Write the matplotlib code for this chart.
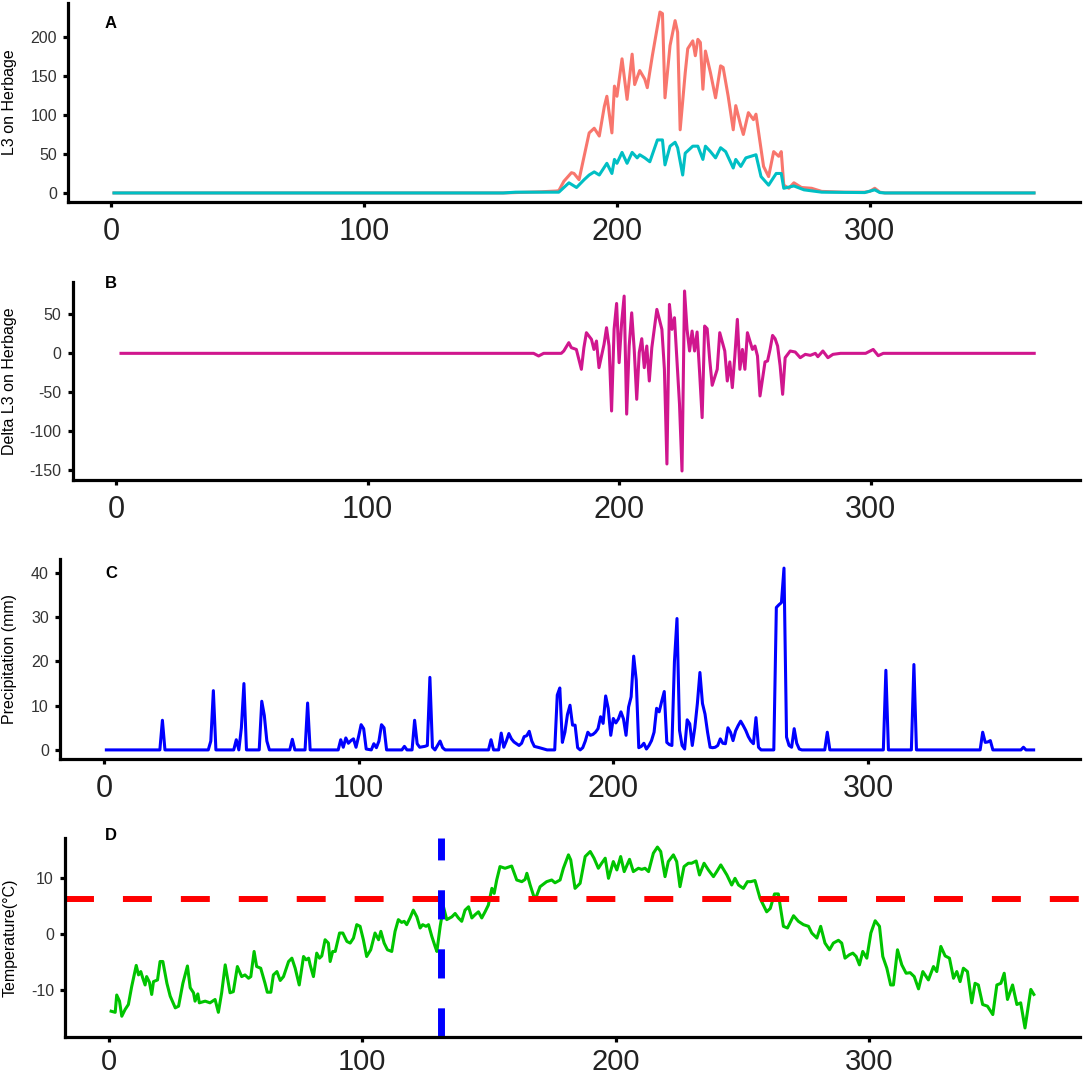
import matplotlib
matplotlib.use('Agg')
import matplotlib.pyplot as plt

plt.rcParams['font.family'] = ['Liberation Sans', 'DejaVu Sans']
plt.rcParams['axes.unicode_minus'] = False

# ---------------- Panel A: L3 on herbage (two series) ----------------
a_red_day = [1, 155, 160, 170, 176, 177, 179, 182, 183, 185, 187, 189, 191, 193, 195, 196, 198,
             199, 200, 202, 204, 206, 207, 209, 211, 212, 214, 217, 218, 219, 221, 223, 224,
             225, 227, 228, 230, 231, 232, 233, 234, 235, 237, 239, 241, 242, 244, 246, 247,
             249, 250, 252, 254, 255, 258, 260, 262, 264, 265, 266, 268, 270, 273, 277, 281,
             290, 298, 300, 302, 304, 306, 365]
a_red_val = [0, 0, 0.5, 1.5, 2.5, 3, 15, 26, 25, 17, 47, 77, 83, 73, 111, 124, 77,
             137, 124, 172, 120, 178, 139, 157, 146, 135, 176, 232, 230, 122, 189, 221, 206,
             81, 154, 185, 195, 176, 197, 193, 133, 182, 154, 122, 163, 161, 124, 81, 112,
             86, 75, 103, 94, 101, 34, 21, 53, 47, 53, 10, 6, 13, 7, 6, 2,
             1, 1, 2, 6, 1, 0, 0]

a_teal_day = [1, 155, 160, 170, 177, 181, 184, 187, 189, 191, 193, 196, 198, 199, 200, 202, 204,
              206, 208, 209, 211, 213, 216, 218, 219, 221, 223, 224, 226, 227, 230, 232, 234,
              235, 237, 239, 241, 243, 246, 247, 249, 251, 253, 255, 257, 260, 263, 265, 266,
              270, 274, 281, 298, 302, 304, 306, 365]
a_teal_val = [0, 0, 1, 1, 1, 13, 7, 17, 23, 27, 23, 38, 25, 43, 38, 52, 38,
              52, 45, 49, 45, 40, 68, 68, 36, 60, 65, 58, 23, 51, 60, 60, 43,
              60, 53, 45, 58, 53, 32, 43, 34, 45, 47, 49, 21, 10, 25, 25, 6,
              9, 4, 1, 0.5, 4, 0.5, 0, 0]

# ---------------- Panel B: Delta L3 on herbage ----------------
b_day = [2, 166, 168, 170, 177, 178, 180, 181, 183, 185, 186, 187, 189, 190, 191, 192, 194,
         195, 196, 197, 198, 199, 200, 201, 202, 203, 204, 205, 206, 207, 208, 209, 210,
         211, 212, 213, 215, 217, 218, 219, 220, 221, 222, 224, 225, 226, 227, 228, 229,
         230, 231, 232, 233, 234, 235, 236, 237, 239, 240, 242, 243, 244, 245, 246, 247,
         248, 249, 250, 251, 253, 254, 255, 256, 258, 259, 260, 261, 262, 263, 264, 265,
         266, 268, 270, 272, 274, 276, 278, 279, 281, 283, 285, 288, 298, 301, 303, 305, 365]
b_val = [0, 0, -3.4, 0, 0, 3, 13.7, 7.3, 5, -20.5, 7.3, 26.5, 18, 5, 15.8, -18.4, 11.5,
         32.9, 9.4, -74, 30.8, 64, -12, 39.3, 73.5, -78, 9.4, 52, 5, -59, 1, 18.8, -18.4,
         9.4, -35.5, 7.3, 56.4, 30.8, -20.5, -142, 62.8, 30.8, 45.7, -65, -151, 80, 30.8, 3, 28.6,
         3, 27.4, -24.8, -82.5, 35, 31.6, -7.7, -41, -20.5, 26.5, 3, -35.5, -11, -44, -3.4, 43.6,
         -20.5, 5, -20.5, 26.5, 5, 9.4, -3.4, -54.7, -11, -9.8, 5, 23, 18.8, 9.4, -16, -52.6,
         -5.6, 3, 1.7, -5.6, -1.3, -2.6, 0, -4.3, 3, -5.6, -1.3, 0, 0, 5, -3, 0, 0]

# ---------------- Panel C: Precipitation (mm) ----------------
c_day = [1, 22, 23, 24, 41, 42, 43, 44, 51, 52, 53, 54, 55, 56, 61, 62, 63, 64, 65,
         73, 74, 75, 79, 80, 81, 92, 93, 94, 95, 96, 97, 98, 99, 100, 101, 102, 103, 105,
         106, 107, 108, 109, 110, 111, 117, 118, 119, 121, 122, 123, 124, 126, 127, 128, 129,
         130, 132, 133, 134, 151, 152, 153, 155, 156, 157, 158, 159, 160, 161, 163, 164, 165,
         166, 167, 168, 169, 171, 174, 177, 178, 179, 180, 181, 182, 183, 184, 185, 186, 187,
         188, 189, 190, 191, 192, 193, 194, 195, 196, 197, 198, 199, 200, 201, 202, 203, 204,
         205, 206, 207, 208, 209, 210, 211, 212, 213, 214, 215, 216, 217, 218, 219, 220, 221,
         222, 223, 224, 225, 226, 227, 228, 229, 230, 231, 232, 233, 234, 235, 236, 237, 238,
         239, 240, 241, 242, 243, 244, 245, 246, 247, 248, 249, 250, 251, 252, 253, 254, 255,
         256, 257, 258, 263, 264, 265, 266, 267, 268, 269, 270, 271, 272, 273, 274, 283, 284,
         285, 306, 307, 308, 317, 318, 319, 344, 345, 346, 347, 348, 349, 360, 361, 362, 365]
c_val = [0, 0, 6.7, 0, 0, 2, 13.4, 0, 0, 2.3, 0, 5, 15, 0, 0, 11, 7.8, 2, 0,
         0, 2.4, 0, 0, 10.6, 0, 0, 2.3, 0.6, 2.7, 1.5, 2.1, 2.5, 0.6, 3, 5.7, 4.8, 0.2, 0,
         1.4, 0.5, 2, 5.7, 5, 0, 0, 0.8, 0, 0, 6.7, 1.4, 0.6, 0.8, 1, 16.4, 0.6,
         0, 2, 0.5, 0, 0, 2.3, 0, 0, 3.8, 0.6, 2, 3.7, 2.5, 1.8, 1, 1.5, 3,
         3.2, 4.2, 2, 0.8, 0.5, 0, 0, 12.4, 14, 1.7, 4, 8, 10.1, 5.6, 5.6, 0.5, 0,
         0.5, 2, 4, 3.3, 3.5, 4, 4.8, 7.5, 6, 12.2, 9.4, 3.3, 7.1, 6.1, 7, 8.6, 7,
         3.3, 9.7, 12, 21.2, 15.8, 0.5, 0.8, 1.5, 0.2, 1, 2.1, 4, 9.4, 8.6, 11, 13.2, 1.7,
         1.2, 1, 20, 29.7, 4.4, 1, 0.2, 6.8, 5.9, 1, 5, 10.5, 17.5, 10.5, 8.1, 4, 0.6,
         0.5, 0.6, 1, 2.5, 1.5, 1.4, 5, 4, 2.1, 4.3, 5.5, 6.5, 5.5, 4.4, 3, 2, 1.4,
         7.3, 0.6, 0, 0, 32.2, 32.8, 33.3, 41.1, 2.9, 1, 0.6, 4.8, 1.5, 0.2, 0, 0, 4,
         0, 0, 18, 0, 0, 19.3, 0, 0, 4, 1.7, 1.8, 2.1, 0, 0, 0.6, 0, 0]

# ---------------- Panel D: Temperature (°C) ----------------
d_day = [1, 2.6, 3.2, 4.3, 5.2, 6.5, 7.8, 9.1, 10.9, 11.8, 12.7, 13.5, 14.4, 15, 16.1, 17, 17.7,
         19.3, 20.3, 21.4, 23, 24.3, 26.3, 27.6, 29.3, 31.1, 32.2, 33.5, 34.1, 35.2, 35.8, 38.1,
         40, 42, 43.3, 44.6, 46, 47.9, 49.2, 50.8, 52.5, 53.8, 55.2, 56.1, 57.4, 58.4, 60, 61.7,
         62.6, 64, 65, 66.4, 67.7, 69, 71, 72.3, 73.6, 75.2, 76.9, 77.9, 78.9, 79.5, 80.8, 82.1,
         83.2, 84.1, 85.4, 86.7, 87.4, 88.4, 89.4, 91.1, 92.4, 94, 95.3, 96.6, 97.9, 99.2, 100.5,
         101.8, 103.4, 105.1, 106.5, 107.4, 108.7, 110, 111.7, 113, 114.3, 115.6, 116.6, 117.6,
         118.9, 120.2, 121.6, 122.9, 123.9, 125.2, 126.2, 127.5, 128.8, 129.5, 130.8, 132.1,
         133.4, 135.4, 136.7, 138, 139.3, 140.6, 142, 143.3, 144.6, 145.9, 147.2, 148.5, 149.8,
         151.2, 152.1, 153.1, 154.4, 156.4, 159, 161, 163, 164.3, 165, 166.3, 168.2, 170.2,
         172.8, 174.8, 176.1, 178.1, 179.4, 181.4, 182.3, 184, 186, 188, 190, 191.5, 193.2,
         194.5, 195.9, 197.2, 199.1, 200.5, 202, 203.4, 205.5, 207, 209, 210.3, 211.6, 213,
         214.9, 216.5, 217.8, 219.5, 220.8, 222.8, 224.1, 225.4, 227, 228.7, 230, 231.8, 233.1,
         234.9, 236.6, 238.6, 239.9, 241.5, 243.9, 245.8, 247.1, 248.5, 250.4, 252, 253.3, 255,
         257, 259.6, 261, 262.7, 264.2, 264.9, 266.2, 267.8, 270.2, 272.1, 274.1, 276.1, 277.4,
         279.4, 280.9, 282.6, 284.4, 285.9, 287.9, 289.2, 290.5, 292.2, 293.6, 294.9, 296.2,
         297.5, 299.1, 300.7, 302.4, 304.1, 305.4, 307, 308.5, 309.6, 311.2, 312.9, 314.6, 316.2,
         317.8, 319.5, 321.2, 323.4, 325.4, 326.7, 328.3, 330, 331.7, 333.3, 334.6, 335.9, 337.2,
         338.8, 340.5, 341.8, 343.1, 344.8, 346.7, 348.8, 350.4, 352, 353.3, 354.6, 356.6, 358.3,
         359.8, 361.5, 363.8, 365]
d_val = [-13.8, -14, -10.9, -12, -14.7, -13.5, -12.6, -9.4, -5.6, -7.3, -6.7, -7.9, -9.1, -7.6,
         -8.6, -10.8, -8.5, -8.2, -4.9, -4.9, -8.8, -11.1, -13.2, -12.9, -8.8, -5.7, -9.6, -10.5,
         -12, -10.7, -12.3, -12, -12.3, -11.7, -14, -10.5, -5.5, -10.5, -10.3, -5.8, -7.6, -7.3,
         -7.9, -7.6, -3.1, -5.8, -6.1, -8.8, -10.4, -10.4, -7.3, -6.7, -8.3, -7.6, -4.9, -4.3,
         -6.1, -9.1, -4, -4.6, -4.3, -5.5, -7.6, -3.4, -4.3, -3.9, -1, -1.6, -4.9, -3.1, -3.1,
         0.2, 0.2, -1.3, -1.6, -0.7, 1.7, 1.4, -1, -4, -2.8, 0.2, -1, 0.5, -1.6, -2.8, -3.1, 0.5,
         2.6, 2.1, 2.3, 1.7, 2.9, 4.3, 3.1, 1.1, 1.7, 1.4, 1.7, -0.4, -2.2, -3.1, 1.4, 4.9, 2.6,
         3.1, 3.7, 2.9, 2.3, 4.3, 4.9, 2.9, 3.5, 4, 2.9, 4, 5.2, 8.2, 7.3, 9.7, 12.1, 11.8, 12.2,
         9.7, 9.4, 9.8, 10.9, 8.8, 6.1, 8.5, 9.4, 9.7, 9.2, 9.7, 11.8, 14.2, 13.3, 8.2, 9.1, 13.9,
         14.8, 13.6, 11.8, 12.7, 13.6, 10, 13, 11.5, 13.9, 11.2, 13.4, 11.2, 11.8, 11.6, 11.8,
         11.2, 14.5, 15.6, 14.8, 10.3, 13, 14.2, 13, 8.5, 12.1, 12.7, 12.7, 13.1, 10.6, 12.7, 11.5,
         10.3, 11.2, 12.4, 10.6, 8.8, 10, 8.8, 8.2, 9.4, 9.4, 9.6, 6.4, 4, 4.6, 7.2, 7.2, 5.2, 1.4,
         1.1, 3.3, 2.3, 1.7, 1.4, 0.2, -0.7, 1.4, -1.6, -2.8, -1.6, -1.1, -1.6, -4.3, -3.7, -3.4,
         -4, -5.5, -3.1, -4.3, 0.2, 2.4, 1.4, -4, -6.1, -9.1, -9.1, -2.8, -5.5, -7, -6.9, -7.6,
         -9.8, -6.7, -8.2, -5.8, -6.7, -2.2, -3.9, -4.3, -7.9, -6.7, -8.5, -6.1, -6.7, -12.3,
         -8.8, -9.1, -12.6, -12.9, -14.4, -9.1, -8.8, -7, -11.7, -9.1, -12.6, -12.3, -16.8,
         -9.9, -10.8]
temp_threshold = 6.25
marker_day = 131

x_ticks = [0, 100, 200, 300]
a_yticks = [0, 50, 100, 150, 200]
b_yticks = [-150, -100, -50, 0, 50]
c_yticks = [0, 10, 20, 30, 40]
d_yticks = [-10, 0, 10]

W, H = 1084, 1079
fig = plt.figure(figsize=(W / 100, H / 100), dpi=100)


def px_axes(left, top, right, bottom):
    return fig.add_axes([left / W, 1 - bottom / H, (right - left) / W, (bottom - top) / H])


def style(ax, yticks, ylabel, letter, letter_base, ax_top, ax_bot, xpad=6.8, xsize=22):
    for s in ['top', 'right']:
        ax.spines[s].set_visible(False)
    for s in ['left', 'bottom']:
        ax.spines[s].set_linewidth(2.3)
        ax.spines[s].set_color('black')
    ax.set_xlim(-17.2, 383.2)
    ax.set_xticks(x_ticks)
    ax.set_yticks(yticks)
    ax.tick_params(axis='x', length=3.8, width=2.3, labelsize=xsize, pad=xpad,
                   labelcolor='#222222', color='black')
    ax.tick_params(axis='y', length=3.8, width=2.3, labelsize=11.5, pad=4.2,
                   labelcolor='#333333', color='black')
    fig.text(10 / W, 1 - ((ax_top + ax_bot) / 2) / H, ylabel, rotation=90,
             ha='center', va='center', fontsize=11.5, color='black')
    fig.text(105 / W, 1 - letter_base / H, letter, fontweight='bold', fontsize=12,
             ha='left', va='baseline', color='black')


axA = px_axes(68, 3, 1080, 202)
axA.plot(a_red_day, a_red_val, color='#F8766D', lw=2.2)
axA.plot(a_teal_day, a_teal_val, color='#00BFC4', lw=2.2)
style(axA, a_yticks, 'L3 on Herbage', 'A', 28, 3, 202)

axB = px_axes(72.7, 282, 1080, 480)
axB.plot(b_day, b_val, color='#D0168E', lw=2.2)
style(axB, b_yticks, 'Delta L3 on Herbage', 'B', 288, 282, 480)

axC = px_axes(60, 559, 1080, 759)
axC.plot(c_day, c_val, color='#0000FF', lw=2.2)
style(axC, c_yticks, 'Precipitation (mm)', 'C', 578, 559, 759)

axD = px_axes(65, 838, 1080, 1037)
axD.plot(d_day, d_val, color='#00C400', lw=2.2)
axD.axhline(temp_threshold, color='#FF0000', lw=4.3, linestyle=(0, (4.85, 4.85)))
axD.axvline(marker_day, color='#0000FF', lw=5.0, linestyle=(0, (4.2, 4.3)))
style(axD, d_yticks, 'Temperature(°C)', 'D', 840, 838, 1037, xpad=4.0, xsize=21)

fig.savefig('out.png', dpi=100)
